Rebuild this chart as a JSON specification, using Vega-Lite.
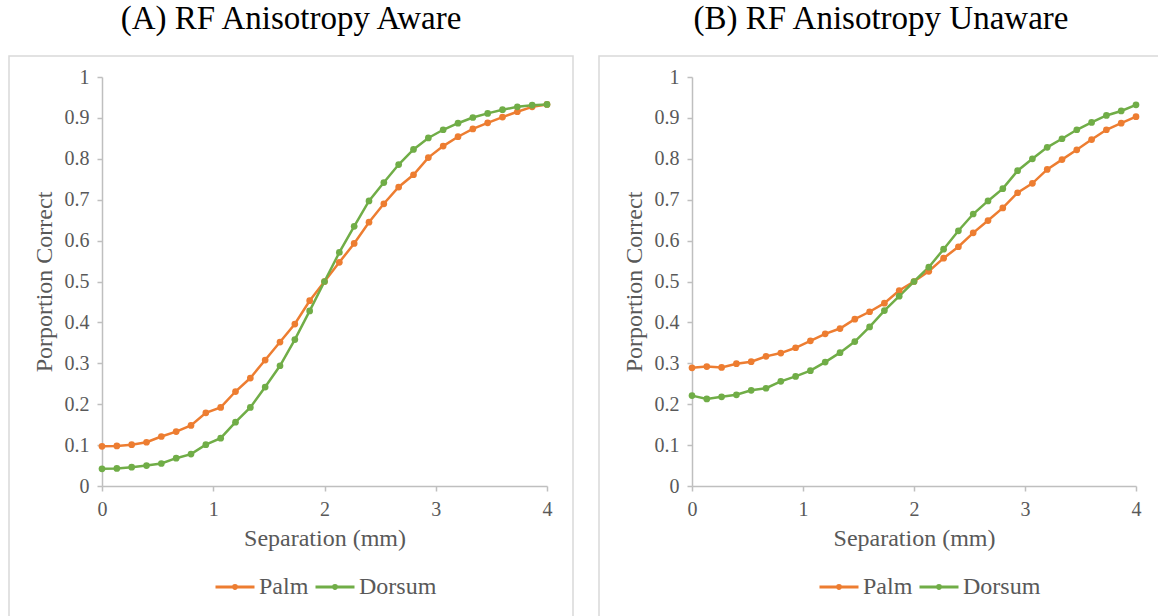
{
  "$schema": "https://vega.github.io/schema/vega-lite/v6.json",
  "autosize": {"type": "pad"},
  "padding": {"left": 8, "top": 2, "right": 0, "bottom": 0},
  "background": "white",
  "spacing": 24,
  "datasets": {
    "aware": [
      {"sep": 0, "Palm": 0.097, "Dorsum": 0.042},
      {"sep": 0.1333, "Palm": 0.098, "Dorsum": 0.043},
      {"sep": 0.2667, "Palm": 0.101, "Dorsum": 0.046},
      {"sep": 0.4, "Palm": 0.107, "Dorsum": 0.050},
      {"sep": 0.5333, "Palm": 0.121, "Dorsum": 0.055},
      {"sep": 0.6667, "Palm": 0.133, "Dorsum": 0.068},
      {"sep": 0.8, "Palm": 0.148, "Dorsum": 0.078},
      {"sep": 0.9333, "Palm": 0.179, "Dorsum": 0.101},
      {"sep": 1.0667, "Palm": 0.192, "Dorsum": 0.117},
      {"sep": 1.2, "Palm": 0.231, "Dorsum": 0.156},
      {"sep": 1.3333, "Palm": 0.264, "Dorsum": 0.192},
      {"sep": 1.4667, "Palm": 0.308, "Dorsum": 0.242},
      {"sep": 1.6, "Palm": 0.352, "Dorsum": 0.294},
      {"sep": 1.7333, "Palm": 0.396, "Dorsum": 0.358},
      {"sep": 1.8667, "Palm": 0.453, "Dorsum": 0.428},
      {"sep": 2.0, "Palm": 0.500, "Dorsum": 0.500},
      {"sep": 2.1333, "Palm": 0.547, "Dorsum": 0.571},
      {"sep": 2.2667, "Palm": 0.593, "Dorsum": 0.635},
      {"sep": 2.4, "Palm": 0.645, "Dorsum": 0.697},
      {"sep": 2.5333, "Palm": 0.690, "Dorsum": 0.742},
      {"sep": 2.6667, "Palm": 0.731, "Dorsum": 0.786},
      {"sep": 2.8, "Palm": 0.761, "Dorsum": 0.823},
      {"sep": 2.9333, "Palm": 0.803, "Dorsum": 0.851},
      {"sep": 3.0667, "Palm": 0.831, "Dorsum": 0.871},
      {"sep": 3.2, "Palm": 0.854, "Dorsum": 0.887},
      {"sep": 3.3333, "Palm": 0.873, "Dorsum": 0.901},
      {"sep": 3.4667, "Palm": 0.888, "Dorsum": 0.911},
      {"sep": 3.6, "Palm": 0.902, "Dorsum": 0.920},
      {"sep": 3.7333, "Palm": 0.915, "Dorsum": 0.927},
      {"sep": 3.8667, "Palm": 0.927, "Dorsum": 0.931},
      {"sep": 4.0, "Palm": 0.933, "Dorsum": 0.933}
    ],
    "unaware": [
      {"sep": 0, "Palm": 0.289, "Dorsum": 0.221},
      {"sep": 0.1333, "Palm": 0.292, "Dorsum": 0.213},
      {"sep": 0.2667, "Palm": 0.290, "Dorsum": 0.218},
      {"sep": 0.4, "Palm": 0.299, "Dorsum": 0.223},
      {"sep": 0.5333, "Palm": 0.304, "Dorsum": 0.234},
      {"sep": 0.6667, "Palm": 0.317, "Dorsum": 0.239},
      {"sep": 0.8, "Palm": 0.325, "Dorsum": 0.256},
      {"sep": 0.9333, "Palm": 0.338, "Dorsum": 0.268},
      {"sep": 1.0667, "Palm": 0.355, "Dorsum": 0.282},
      {"sep": 1.2, "Palm": 0.372, "Dorsum": 0.303},
      {"sep": 1.3333, "Palm": 0.385, "Dorsum": 0.326},
      {"sep": 1.4667, "Palm": 0.408, "Dorsum": 0.353},
      {"sep": 1.6, "Palm": 0.426, "Dorsum": 0.389},
      {"sep": 1.7333, "Palm": 0.447, "Dorsum": 0.429},
      {"sep": 1.8667, "Palm": 0.478, "Dorsum": 0.464},
      {"sep": 2.0, "Palm": 0.500, "Dorsum": 0.500},
      {"sep": 2.1333, "Palm": 0.525, "Dorsum": 0.535},
      {"sep": 2.2667, "Palm": 0.557, "Dorsum": 0.579},
      {"sep": 2.4, "Palm": 0.585, "Dorsum": 0.624},
      {"sep": 2.5333, "Palm": 0.619, "Dorsum": 0.665},
      {"sep": 2.6667, "Palm": 0.649, "Dorsum": 0.697},
      {"sep": 2.8, "Palm": 0.680, "Dorsum": 0.727},
      {"sep": 2.9333, "Palm": 0.717, "Dorsum": 0.771},
      {"sep": 3.0667, "Palm": 0.740, "Dorsum": 0.800},
      {"sep": 3.2, "Palm": 0.774, "Dorsum": 0.828},
      {"sep": 3.3333, "Palm": 0.798, "Dorsum": 0.849},
      {"sep": 3.4667, "Palm": 0.822, "Dorsum": 0.871},
      {"sep": 3.6, "Palm": 0.847, "Dorsum": 0.889},
      {"sep": 3.7333, "Palm": 0.871, "Dorsum": 0.906},
      {"sep": 3.8667, "Palm": 0.887, "Dorsum": 0.917},
      {"sep": 4.0, "Palm": 0.903, "Dorsum": 0.932}
    ]
  },
  "resolve": {"scale": {"color": "independent"}, "legend": {"color": "independent"}},
  "hconcat": [
    {
      "width": 564,
      "height": 570,
      "title": {"text": "(A) RF Anisotropy Aware"},
      "data": {"name": "aware"},
      "transform": [{"fold": ["Palm", "Dorsum"], "as": ["series", "p"]}],
      "mark": {"type": "line", "strokeWidth": 2.5, "point": {"filled": true, "size": 45, "opacity": 1}},
      "encoding": {
        "x": {"field": "sep", "type": "quantitative", "scale": {"domain": [0, 4], "range": [93, 538], "nice": false, "zero": false}, "axis": {"title": "Separation (mm)", "values": [0, 1, 2, 3, 4], "offset": -140}},
        "y": {"field": "p", "type": "quantitative", "scale": {"domain": [0, 1], "range": [430, 21], "nice": false}, "axis": {"title": "Porportion Correct", "values": [0, 0.1, 0.2, 0.3, 0.4, 0.5, 0.6, 0.7, 0.8, 0.9, 1], "format": "~g", "offset": -93}},
        "color": {"field": "series", "type": "nominal", "sort": ["Palm", "Dorsum"], "scale": {"domain": ["Palm", "Dorsum"], "range": ["#ED7D31", "#70AD47"]}, "legend": {"title": null, "orient": "none", "legendX": 205, "legendY": 510, "direction": "horizontal"}}
      }
    },
    {
      "width": 564,
      "height": 570,
      "title": {"text": "(B) RF Anisotropy Unaware"},
      "data": {"name": "unaware"},
      "transform": [{"fold": ["Palm", "Dorsum"], "as": ["series", "p"]}],
      "mark": {"type": "line", "strokeWidth": 2.5, "point": {"filled": true, "size": 45, "opacity": 1}},
      "encoding": {
        "x": {"field": "sep", "type": "quantitative", "scale": {"domain": [0, 4], "range": [93, 537], "nice": false, "zero": false}, "axis": {"title": "Separation (mm)", "values": [0, 1, 2, 3, 4], "offset": -140}},
        "y": {"field": "p", "type": "quantitative", "scale": {"domain": [0, 1], "range": [430, 21], "nice": false}, "axis": {"title": "Porportion Correct", "values": [0, 0.1, 0.2, 0.3, 0.4, 0.5, 0.6, 0.7, 0.8, 0.9, 1], "format": "~g", "offset": -93}},
        "color": {"field": "series", "type": "nominal", "sort": ["Palm", "Dorsum"], "scale": {"domain": ["Palm", "Dorsum"], "range": ["#ED7D31", "#70AD47"]}, "legend": {"title": null, "orient": "none", "legendX": 219, "legendY": 510, "direction": "horizontal"}}
      }
    }
  ],
  "config": {
    "font": "Liberation Serif",
    "view": {"stroke": "#d9d9d9", "strokeWidth": 1.5},
    "title": {"fontSize": 33, "fontWeight": "normal", "color": "#000000", "anchor": "middle", "offset": 20, "font": "Liberation Serif"},
    "axis": {
      "grid": false,
      "domainColor": "#bfbfbf",
      "domainWidth": 1.5,
      "tickColor": "#bfbfbf",
      "tickWidth": 1.5,
      "tickSize": 5,
      "labelFont": "Liberation Serif",
      "labelFontSize": 20,
      "labelColor": "#595959",
      "labelPadding": 8,
      "labelFlush": false,
      "labelOverlap": false,
      "titleFont": "Liberation Serif",
      "titleFontSize": 24,
      "titleFontWeight": "normal",
      "titleColor": "#595959"
    },
    "axisY": {"titlePadding": 8},
    "axisX": {"titlePadding": 7},
    "legend": {
      "labelFont": "Liberation Serif",
      "labelFontSize": 24,
      "labelColor": "#595959",
      "symbolType": "M-1,0H1M-0.077,0A0.077,0.077,0,1,0,0.077,0A0.077,0.077,0,1,0,-0.077,0",
      "symbolSize": 1521,
      "symbolStrokeWidth": 3,
      "labelOffset": 3,
      "columnPadding": 0,
      "padding": 0
    }
  }
}
